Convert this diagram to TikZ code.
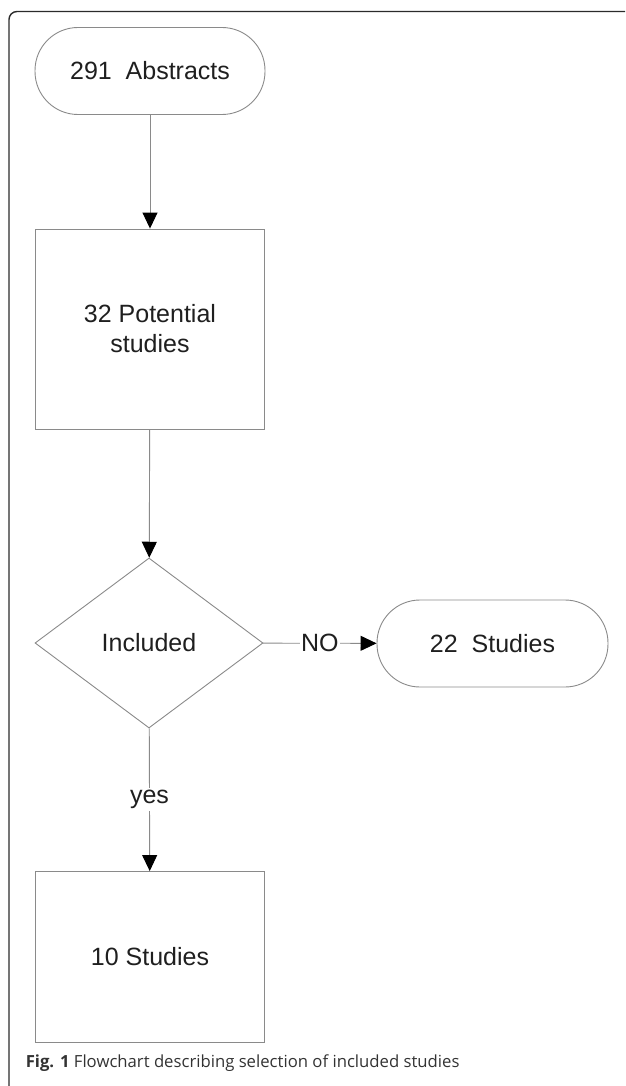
\documentclass[tikz,border=0pt]{standalone}
\usepackage{fontspec}
\setmainfont{Liberation Sans}
\newfontfamily\capfont{Open Sans}
\usetikzlibrary{arrows.meta,shapes.geometric}
\definecolor{boxgrey}{HTML}{8A8A8A}
\definecolor{framegrey}{HTML}{2B2B2B}

\begin{document}
\begin{tikzpicture}
            [x=1pt, y=-1pt, ->, >={Triangle[length=16pt,width=15pt,black]}, line width=0.9pt,
             every node/.style={font=\fontsize{25}{30}\selectfont, text=black!88},
             terminal/.style={shape=rectangle, rounded corners=43pt, draw=boxgrey, minimum width=230pt, minimum height=87pt},
             process/.style={shape=rectangle, draw=boxgrey, minimum width=229pt, align=center},
             decision/.style={shape=diamond, draw=boxgrey, inner sep=0pt, minimum width=228pt, minimum height=170pt},
             flow/.style={draw=boxgrey}]
            \useasboundingbox (0,0) rectangle (625,1086);
            \draw[-, framegrey, line width=1.4pt, rounded corners=8pt] (9,1086) -- (9,11.5) -- (625,11.5);

            \node[terminal] (abstracts) at (150,71) {291~ Abstracts};
            \node[process, minimum height=200pt] (potential) at (150,329) {32 Potential\\studies};
            \node[decision] (included) at (149,643) {Included};
            \node[terminal, minimum width=231pt] (excluded) at (492.5,643.5) {22~ Studies};
            \node[process, minimum height=171pt] (final) at (150,957) {10 Studies};
            \node[anchor=base west, font=\capfont\fontsize{16.7}{19}\selectfont, text=black!80] (caption) at (22,1067)
                {\textbf{Fig. 1} Flowchart describing selection of included studies};

            \path [flow] (abstracts) edge node {} (potential);
            \path [flow] (potential) edge node {} (included);
            \path [flow] (included) edge node[fill=white, inner sep=1pt] {NO} (excluded);
            \path [flow] (included) edge node[fill=white, inner sep=2pt] {yes} (final);
        \end{tikzpicture}
\end{document}
